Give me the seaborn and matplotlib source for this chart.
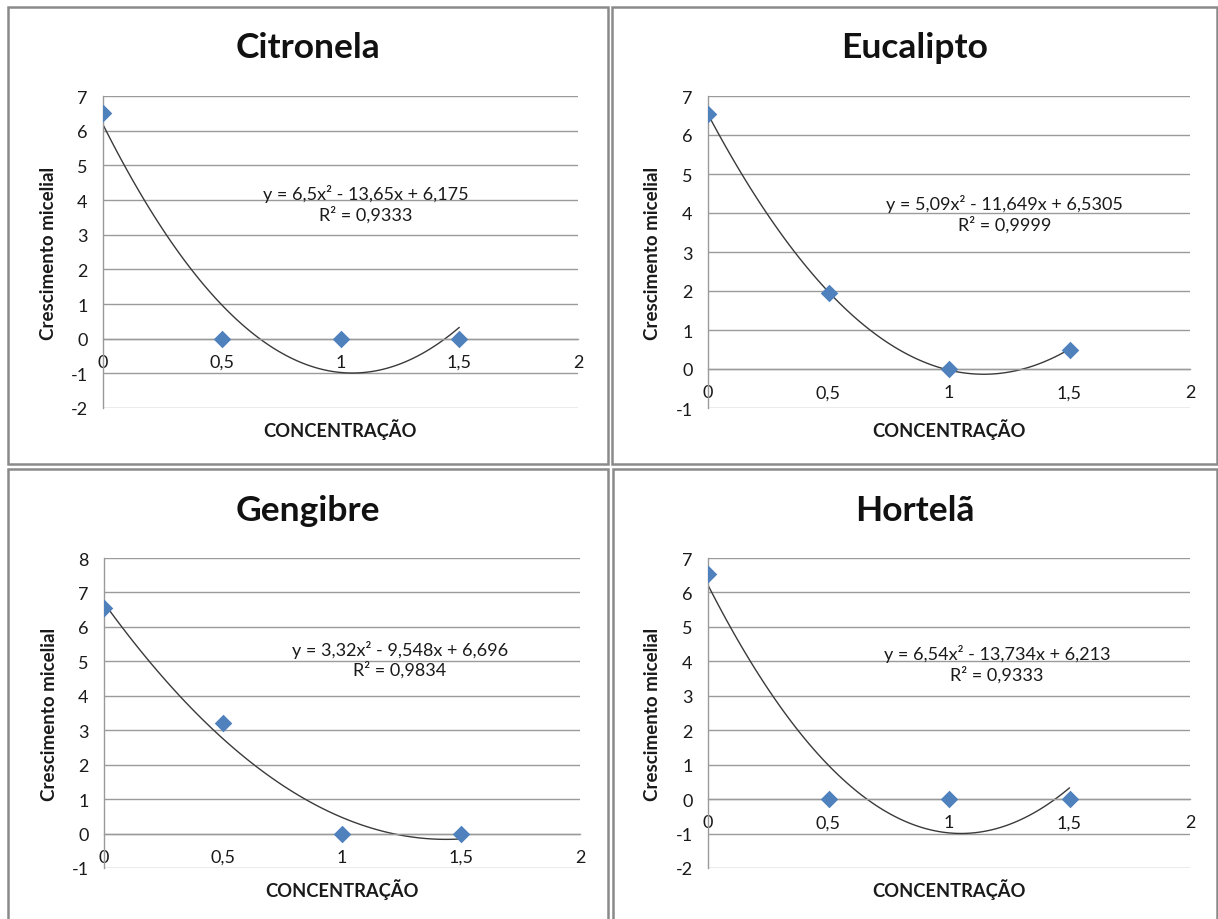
import matplotlib
matplotlib.use("Agg")
import matplotlib.pyplot as plt
import seaborn as sns
import pandas as pd
from matplotlib.patches import Rectangle

# Data
concentracao = [0, 0.5, 1, 1.5]
citronela = [6.5, 0, 0, 0]
eucalipto = [6.54, 1.95, 0, 0.5]
gengibre = [6.54, 3.22, 0, 0]
hortela = [6.54, 0, 0, 0]

titulos = ["Citronela", "Eucalipto", "Gengibre", "Hortelã"]
equacoes = [
    "y = 6,5x² - 13,65x + 6,175\nR² = 0,9333",
    "y = 5,09x² - 11,649x + 6,5305\nR² = 0,9999",
    "y = 3,32x² - 9,548x + 6,696\nR² = 0,9834",
    "y = 6,54x² - 13,734x + 6,213\nR² = 0,9333",
]
eq_pos = [(1.107, 3.90), (1.232, 3.99), (1.244, 5.07), (1.199, 3.94)]
y_limites = [(-2, 7), (-1, 7), (-1, 8), (-2, 7)]
x_ticks = [0, 0.5, 1, 1.5, 2]
x_ticklabels = ["0", "0,5", "1", "1,5", "2"]

series = [citronela, eucalipto, gengibre, hortela]

sns.set_style("white")
plt.rcParams['font.family'] = ['Lato', 'DejaVu Sans']
plt.rcParams['axes.unicode_minus'] = False

W, H = 1218, 920
fig = plt.figure(figsize=(W / 100, H / 100), dpi=100)

# panel frames and axes positions (in pixels)
frames = [(8, 8, 608, 465), (612, 8, 1217, 465), (8, 470, 608, 925), (613, 470, 1217, 925)]
axes_px = [(103, 97, 578, 409), (708, 97, 1190, 409), (104, 559, 580, 869), (708, 559, 1190, 869)]

grid_color = "#9a9a9a"
blue = "#4F81BD"

for i in range(4):
    fx0, fy0, fx1, fy1 = frames[i]
    fig.patches.append(Rectangle((fx0 / W, 1 - fy1 / H), (fx1 - fx0) / W, (fy1 - fy0) / H,
                                 transform=fig.transFigure, fill=False,
                                 edgecolor="#8a8a8a", linewidth=1.8))
    x0, y0, x1, y1 = axes_px[i]
    ax = fig.add_axes([x0 / W, 1 - y1 / H, (x1 - x0) / W, (y1 - y0) / H])
    df = pd.DataFrame({"x": concentracao, "y": series[i]})

    # quadratic trend line + diamond markers
    sns.regplot(data=df, x="x", y="y", order=2, ci=None, scatter=False, ax=ax,
                line_kws={"color": "#3a3a3a", "linewidth": 1.0})
    sns.scatterplot(data=df, x="x", y="y", marker="D", s=80, color=blue,
                    linewidth=0, ax=ax, zorder=4)

    ax.set_xlim(0, 2)
    ax.set_ylim(*y_limites[i])
    lo, hi = y_limites[i]
    ax.set_yticks(range(lo, hi + 1))
    ax.set_xticks(x_ticks)
    ax.set_xticklabels(x_ticklabels)

    ax.grid(axis="y", color=grid_color, linewidth=1.0)
    ax.set_axisbelow(True)
    for s in ["top", "right"]:
        ax.spines[s].set_visible(False)
    ax.spines["bottom"].set_position(("data", 0))
    ax.spines["bottom"].set_color(grid_color)
    ax.spines["left"].set_color(grid_color)
    ax.spines["left"].set_linewidth(1.0)
    ax.spines["bottom"].set_linewidth(1.0)
    ax.tick_params(axis="both", colors=grid_color, labelcolor="#1a1a1a",
                   labelsize=13, direction="out", length=4, width=1)
    ax.tick_params(axis="y", pad=7)
    ax.tick_params(axis="x", pad=7)

    ax.set_xlabel("CONCENTRAÇÃO", fontsize=13.2, fontweight="bold", color="#1a1a1a")
    ax.set_ylabel("Crescimento micelial", fontsize=13.5, fontweight="bold", color="#1a1a1a")
    ax.xaxis.set_label_coords(0.5, -0.033)
    ax.yaxis.set_label_coords(-0.097, 0.5)

    ex, ey = eq_pos[i]
    ax.text(ex, ey, equacoes[i], ha="center", va="center", fontsize=13,
            color="#1a1a1a", linespacing=1.2)

    cx = (fx0 + fx1) / 2
    ty = 48 if i < 2 else 511
    fig.text(cx / W, 1 - ty / H, titulos[i], ha="center", va="center",
             fontsize=25.5, fontweight="bold", color="#111111")

fig.savefig("out.png", dpi=100)
